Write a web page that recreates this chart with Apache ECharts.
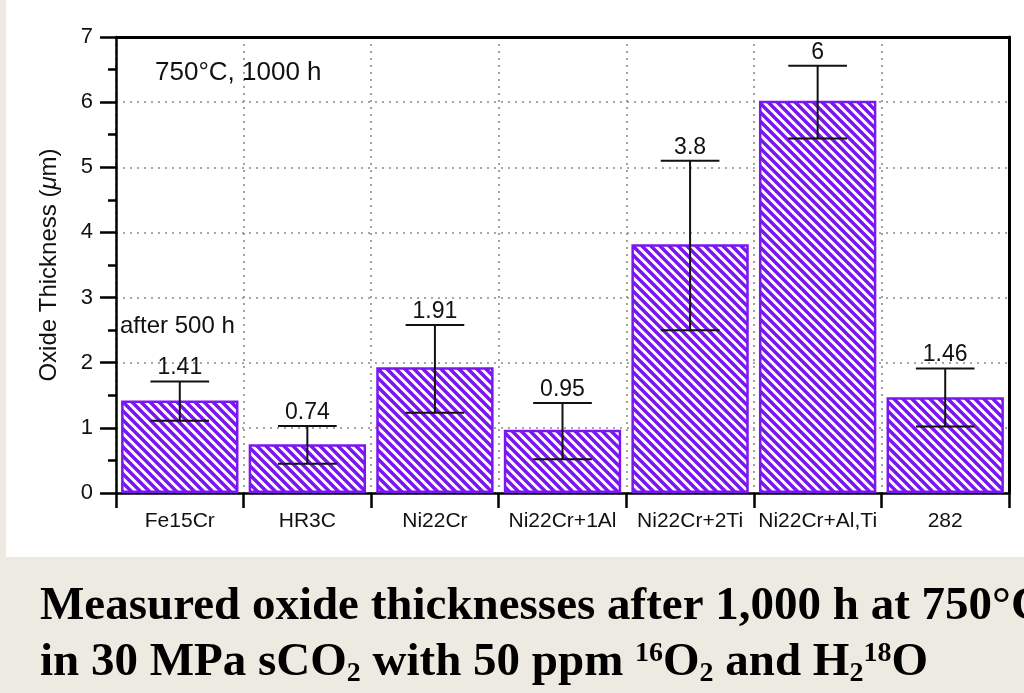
<!DOCTYPE html>
<html>
<head>
<meta charset="utf-8">
<script src="https://cdn.jsdelivr.net/npm/echarts@6/dist/echarts.min.js"></script>
<style>
  html, body { margin: 0; padding: 0; background: #edebe1; }
  #chart { width: 1024px; height: 693px; }
</style>
</head>
<body>
<div id="chart"></div>
<script>
// ---- data ----
const categories = ['Fe15Cr', 'HR3C', 'Ni22Cr', 'Ni22Cr+1Al', 'Ni22Cr+2Ti', 'Ni22Cr+Al,Ti', '282'];
const thickness = [1.42, 0.75, 1.93, 0.97, 3.82, 6.02, 1.47];
const errLow = [1.11, 0.45, 1.23, 0.52, 2.50, 5.44, 1.02];
const errHigh = [1.71, 1.03, 2.58, 1.38, 5.10, 6.56, 1.91];
const valueLabels = ['1.41', '0.74', '1.91', '0.95', '3.8', '6', '1.46'];
const yTicks = { min: 0, max: 7, interval: 1 };

const PURPLE = '#7b16f2';

// hatch pattern
function makeHatch() {
  const s = 9;
  const c = document.createElement('canvas');
  c.width = s; c.height = s;
  const ctx = c.getContext('2d');
  ctx.fillStyle = '#ffffff';
  ctx.fillRect(0, 0, s, s);
  ctx.strokeStyle = PURPLE;
  ctx.lineWidth = 3.5;
  for (let k = -1; k <= 1; k++) {
    ctx.beginPath();
    ctx.moveTo(k * s - 1, -1);
    ctx.lineTo(k * s + s + 1, s + 1);
    ctx.stroke();
  }
  return c;
}

const errData = categories.map((c, i) => [i, errLow[i], errHigh[i], valueLabels[i]]);

const chart = echarts.init(document.getElementById('chart'), null, { renderer: 'canvas' });
const FONT = 'Liberation Sans, Arial, Helvetica, sans-serif';
const SERIF = '"Liberation Serif", "Times New Roman", serif';
const gridLine = { show: true, lineStyle: { color: '#8a8a8a', width: 1.6, type: [2, 5] } };

chart.setOption({
  backgroundColor: 'transparent',
  animation: false,
  grid: { left: 116, right: 15, top: 37, bottom: 200 },
  graphic: [
    { type: 'rect', z: -10, silent: true, shape: { x: 6, y: 0, width: 1018, height: 557 }, style: { fill: '#ffffff' } },
    { type: 'text', left: 155, top: 60, z: 10, style: { text: '750°C, 1000 h', font: '26px ' + FONT, fill: '#111' } },
    { type: 'text', left: 120, top: 314, z: 10, style: { text: 'after 500 h', font: '24px ' + FONT, fill: '#111' } },
    { type: 'text', left: 40, top: 583, z: 10, style: { text: 'Measured oxide thicknesses after 1,000 h at 750°C', font: 'bold 47px ' + SERIF, fill: '#000' } },
    { type: 'text', left: 40, top: 639, z: 10, style: {
        text: 'in 30 MPa sCO{sub|2} with 50 ppm {sup|16}O{sub|2} and H{sub|2}{sup|18}O',
        font: 'bold 47px ' + SERIF, fill: '#000',
        rich: {
          sub: { fontSize: 28, fontWeight: 'bold', fontFamily: 'Liberation Serif', padding: [22, 0, 0, 0] },
          sup: { fontSize: 28, fontWeight: 'bold', fontFamily: 'Liberation Serif', padding: [0, 0, 18, 0] }
        }
      } }
  ],
  xAxis: [
    {
      type: 'category',
      data: categories,
      axisLine: { show: true, lineStyle: { color: '#000', width: 2.5 } },
      axisTick: { show: true, length: 15, lineStyle: { color: '#000', width: 2.5 } },
      axisLabel: { color: '#111', fontSize: 21, fontFamily: FONT, margin: 18, interval: 0 },
      splitLine: gridLine
    },
    {
      type: 'category',
      data: categories,
      position: 'top',
      axisLine: { show: true, onZero: false, lineStyle: { color: '#000', width: 3 } },
      axisTick: { show: false },
      axisLabel: { show: false },
      splitLine: { show: false }
    }
  ],
  yAxis: [
    {
      type: 'value',
      min: yTicks.min, max: yTicks.max, interval: yTicks.interval,
      name: 'Oxide Thickness ({i|μ}m)',
      nameLocation: 'middle',
      nameGap: 55,
      nameTextStyle: {
        color: '#111', fontSize: 24, fontFamily: FONT,
        rich: { i: { fontStyle: 'italic', fontSize: 24, fontFamily: FONT, color: '#111' } }
      },
      axisLine: { show: true, lineStyle: { color: '#000', width: 2.5 } },
      axisTick: { show: true, length: 16, lineStyle: { color: '#000', width: 2.5 } },
      minorTick: { show: true, splitNumber: 2, length: 8, lineStyle: { color: '#000', width: 2.5 } },
      axisLabel: { color: '#111', fontSize: 22, fontFamily: FONT, margin: 23 },
      splitLine: gridLine
    },
    {
      type: 'value',
      min: yTicks.min, max: yTicks.max, interval: yTicks.interval,
      position: 'right',
      axisLine: { show: true, onZero: false, lineStyle: { color: '#000', width: 3 } },
      axisTick: { show: false },
      axisLabel: { show: false },
      splitLine: { show: false }
    }
  ],
  series: [
    {
      type: 'bar',
      data: thickness,
      barCategoryGap: '8%',
      itemStyle: {
        color: { image: makeHatch(), repeat: 'repeat' },
        borderColor: PURPLE,
        borderWidth: 2.5
      },
      z: 2
    },
    {
      type: 'custom',
      data: errData,
      z: 5,
      renderItem: function (params, api) {
        const x = api.value(0);
        const lo = api.coord([x, api.value(1)]);
        const hi = api.coord([x, api.value(2)]);
        const half = api.size([1, 0])[0] * 0.23;
        const st = { stroke: '#111', lineWidth: 2 };
        return {
          type: 'group',
          children: [
            { type: 'line', shape: { x1: hi[0], y1: hi[1], x2: lo[0], y2: lo[1] }, style: st },
            { type: 'line', shape: { x1: hi[0] - half, y1: hi[1], x2: hi[0] + half, y2: hi[1] }, style: st },
            { type: 'line', shape: { x1: lo[0] - half, y1: lo[1], x2: lo[0] + half, y2: lo[1] }, style: st },
            { type: 'text', x: hi[0], y: hi[1] - 2, style: {
                text: errData[params.dataIndex][3], fill: '#111',
                font: '23px ' + FONT, align: 'center', verticalAlign: 'bottom'
              } }
          ]
        };
      }
    }
  ]
});
</script>
</body>
</html>
